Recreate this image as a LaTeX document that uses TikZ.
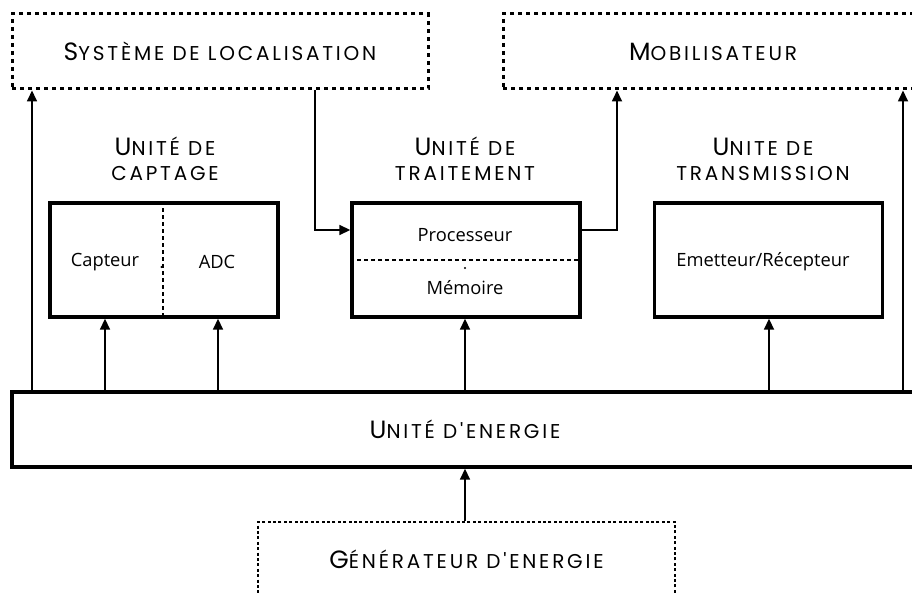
\documentclass[tikz,border=0pt]{standalone}
\usepackage{fontspec}
\setmainfont{Open Sans}
\newfontfamily\titlefont[LetterSpace=14]{Poppins}
\usetikzlibrary{arrows.meta,calc}
\newcommand\BigC[1]{{\fontsize{25}{25}\selectfont #1}}
\newcommand\SmC[1]{{\fontsize{20}{25}\selectfont #1}}
\begin{document}
\begin{tikzpicture}[x=1pt,y=-1pt,
  ext/.style={draw,line width=3pt,dash pattern=on 4pt off 4pt,minimum width=416pt,minimum height=75pt,inner sep=0pt,font=\titlefont},
  gen/.style={draw,line width=2.8pt,dash pattern=on 3pt off 2.4pt,minimum width=417pt,minimum height=75pt,inner sep=0pt,font=\titlefont},
  unit/.style={draw,line width=3.4pt,minimum width=228pt,minimum height=114pt,inner sep=0pt},
  ttl/.style={align=center,font=\titlefont\fontsize{20}{25}\selectfont,inner sep=0pt},
  lbl/.style={font=\fontsize{18.3}{20}\selectfont,inner sep=0pt},
  arr/.style={line width=1.7pt,-{Triangle[length=11pt,width=10pt]}},
  div/.style={line width=1.7pt,dash pattern=on 4pt off 3pt}]
\useasboundingbox (0,0) rectangle (912,593);
\clip (0,0) rectangle (912,593);
% external boxes
\node[ext] (sys) at (220,51.5) {\BigC{S}\SmC{YSTÈME DE LOCALISATION}};
\node[ext,minimum width=420pt] (mob) at (713,51.5) {\BigC{M}\SmC{OBILISATEUR}};
% unit boxes
\node[unit] (capt) at (164,260) {};
\node[unit] (trt) at (466,260) {};
\node[unit] (trans) at (768.5,260) {};
\node[unit,minimum width=906pt,minimum height=75pt,font=\titlefont] (ener) at (465,429.5) {\BigC{U}\SmC{NITÉ D'ENERGIE}};
\node[gen] (gen) at (466.5,559.5) {\BigC{G}\SmC{ÉNÉRATEUR D'ENERGIE}};
% titles
\node[ttl] (tcapt) at (165,159) {\BigC{U}\SmC{NITÉ DE}\\\SmC{CAPTAGE}};
\node[ttl] (ttrt) at (465,159) {\BigC{U}\SmC{NITÉ DE}\\\SmC{TRAITEMENT}};
\node[ttl] (ttrans) at (763,159) {\BigC{U}\SmC{NITE DE}\\\SmC{TRANSMISSION}};
% inner labels
\node[lbl] (capteur) at (105,262) {Capteur};
\node[lbl] (adc) at (217,262) {ADC};
\node[lbl] (proc) at (465,235) {Processeur};
\node[lbl] (mem) at (465,288) {Mémoire};
\node[lbl] (emet) at (763,262) {Emetteur/Récepteur};
% dividers
\coordinate (dv) at (163,0);
\draw[div] (dv |- capt.north) -- (dv |- capt.south);
\coordinate (dh) at (0,260);
\draw[div] (dh -| trt.west) -- (dh -| trt.east);
\fill (161.5,267) circle (1.1pt);
\fill (465,268) circle (1.1pt);
% connectors from energy unit
\coordinate (c1) at (32,0);
\coordinate (c2) at (105,0);
\coordinate (c3) at (218,0);
\coordinate (c4) at (465,0);
\coordinate (c5) at (769,0);
\coordinate (c6) at (903,0);
\draw[arr] (c1 |- ener.north) -- (c1 |- sys.south);
\draw[arr] (c2 |- ener.north) -- (c2 |- capt.south);
\draw[arr] (c3 |- ener.north) -- (c3 |- capt.south);
\draw[arr] (c4 |- ener.north) -- (c4 |- trt.south);
\draw[arr] (c5 |- ener.north) -- (c5 |- trans.south);
\draw[arr] (c6 |- ener.north) -- (c6 |- mob.south);
\draw[arr] (gen.north -| c4) -- (c4 |- ener.south);
% localisation -> traitement -> mobilisateur
\coordinate (l1) at (315,230);
\coordinate (m1) at (617,230);
\draw[arr] (l1 |- sys.south) -- (l1) -- (l1 -| trt.west);
\draw[arr] (m1 -| trt.east) -- (m1) -- (m1 |- mob.south);
\end{tikzpicture}
\end{document}
